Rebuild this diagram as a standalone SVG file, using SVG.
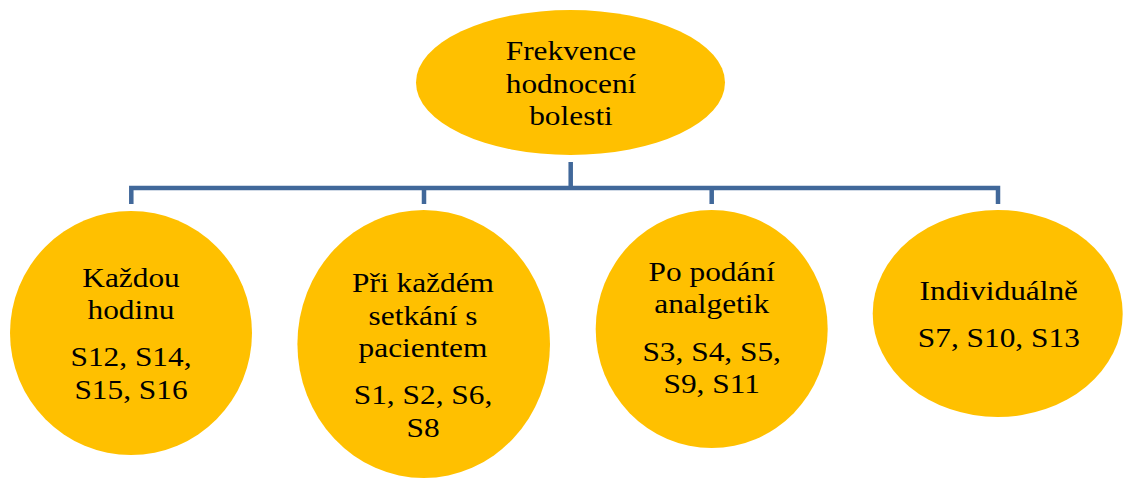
<svg xmlns="http://www.w3.org/2000/svg" width="1123" height="479" viewBox="0 0 1123 479">
  <style>
    .node { fill: #FFC000; }
    .conn { fill: none; stroke: #41689A; stroke-width: 4.5; stroke-linejoin: miter; }
    .lbl { font-family: "Liberation Serif", "Times New Roman", serif; font-size: 28px; fill: #000; text-anchor: middle; }
  </style>
  <rect width="1123" height="479" fill="#FFFFFF"/>

  <g id="connectors">
    <path class="conn" d="M570.7,162 V188 M131.3,204 V188 H998 V204 M424,188 V204 M711.7,188 V204"/>
  </g>

  <g id="root">
    <ellipse class="node" cx="570.5" cy="82.5" rx="154.5" ry="72.5"/>
    <g class="lbl" transform="translate(571,0) scale(1.12,1)">
      <text x="0" y="60">Frekvence</text>
      <text x="0" y="93">hodnocení</text>
      <text x="0" y="125">bolesti</text>
    </g>
  </g>

  <g id="node-hourly">
    <ellipse class="node" cx="131" cy="333" rx="121" ry="122"/>
    <g class="lbl" transform="translate(131,0) scale(1.12,1)">
      <text x="0" y="287">Každou</text>
      <text x="0" y="319">hodinu</text>
      <text x="0" y="366">S12, S14,</text>
      <text x="0" y="399">S15, S16</text>
    </g>
  </g>

  <g id="node-each-contact">
    <ellipse class="node" cx="423.7" cy="344" rx="126.3" ry="134"/>
    <g class="lbl" transform="translate(423,0) scale(1.12,1)">
      <text x="0" y="292">Při každém</text>
      <text x="0" y="325">setkání s</text>
      <text x="0" y="357">pacientem</text>
      <text x="0" y="404">S1, S2, S6,</text>
      <text x="0" y="437">S8</text>
    </g>
  </g>

  <g id="node-after-analgesics">
    <ellipse class="node" cx="711.7" cy="329" rx="116" ry="119"/>
    <g class="lbl" transform="translate(711.7,0) scale(1.12,1)">
      <text x="0" y="281">Po podání</text>
      <text x="0" y="313">analgetik</text>
      <text x="0" y="361">S3, S4, S5,</text>
      <text x="0" y="393">S9, S11</text>
    </g>
  </g>

  <g id="node-individual">
    <ellipse class="node" cx="997.7" cy="313.5" rx="125" ry="103.5"/>
    <g class="lbl" transform="translate(998.8,0) scale(1.12,1)">
      <text x="0" y="300">Individuálně</text>
      <text x="0" y="347">S7, S10, S13</text>
    </g>
  </g>
</svg>
